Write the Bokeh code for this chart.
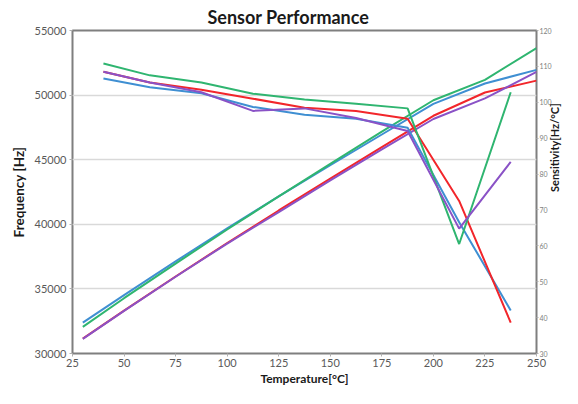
import math
from bokeh.plotting import figure
from bokeh.models import Range1d, LinearAxis, FixedTicker
from bokeh.embed import file_html
from bokeh.resources import INLINE

# ---- data ----
temp_freq = [30, 50, 75, 100, 125, 150, 175, 200, 225, 250]
freq_blue = [32390, 34520, 37130, 39690, 42160, 44570, 46950, 49320, 50900, 51950]
freq_red = [31150, 33320, 35960, 38550, 41070, 43530, 45970, 48400, 50200, 51120]
freq_green = [32060, 34280, 36960, 39600, 42160, 44680, 47170, 49600, 51180, 53640]
freq_purple = [31130, 33300, 35940, 38510, 40950, 43400, 45800, 48150, 49750, 51790]

temp_sens = [40, 62.5, 87.5, 112.5, 137.5, 162.5, 187.5, 212.5, 237.5]
sens_blue = [106.6, 104.2, 102.5, 98.7, 96.5, 95.4, 92.9, 66.6, 42.0]
sens_red = [108.5, 105.5, 103.5, 101.0, 98.5, 97.6, 95.4, 72.5, 38.6]
sens_green = [110.8, 107.5, 105.5, 102.4, 100.8, 99.6, 98.3, 60.5, 102.8]
sens_purple = [108.5, 105.5, 102.8, 97.6, 98.3, 95.6, 92.0, 64.8, 83.4]

x_ticks = list(range(25, 251, 25))
freq_ticks = list(range(30000, 55001, 5000))
sens_ticks = list(range(30, 121, 10))

colors = {"blue": "#3f8fd2", "red": "#f2262b", "green": "#2fb570", "purple": "#8a52c6"}
FONT = "Lato"

p = figure(width=570, height=388, x_range=Range1d(25, 250), y_range=Range1d(30000, 55000),
           output_backend="svg", toolbar_location=None,
           min_border_left=72, min_border_right=30, min_border_top=30, min_border_bottom=32)
p.background_fill_color = "white"
p.border_fill_color = "white"
p.outline_line_color = "#7f7f7f"
p.outline_line_width = 2

p.title.text = "Sensor Performance"
p.title.align = "left"
p.title.text_font = FONT
p.title.text_font_size = "18px"
p.title.text_font_style = "bold"
p.title.text_color = "#1a1a1a"
p.title.standoff = 6
p.title.offset = 135

p.extra_y_ranges = {"sens": Range1d(30, 120)}
right = LinearAxis(y_range_name="sens", axis_label="Sensitivity[Hz/°C]",
                   ticker=FixedTicker(ticks=sens_ticks))
p.add_layout(right, "right")

p.xaxis.ticker = FixedTicker(ticks=x_ticks)
p.yaxis[0].ticker = FixedTicker(ticks=freq_ticks)
p.xaxis.axis_label = "Temperature[°C]"
p.yaxis[0].axis_label = "Frequency [Hz]"

for ax in [p.xaxis[0], p.yaxis[0], right]:
    ax.axis_line_color = None
    ax.major_tick_line_color = "#b0b0b0"
    ax.major_tick_out = 3
    ax.major_tick_in = 0
    ax.minor_tick_line_color = None
    ax.major_label_text_font = FONT
    ax.major_label_text_color = "#595959"
    ax.major_label_text_font_size = "11px"
    ax.major_label_standoff = 3
    ax.axis_label_text_font = FONT
    ax.axis_label_text_font_style = "bold"
    ax.axis_label_text_font_size = "12px"
    ax.axis_label_text_color = "#1a1a1a"
    ax.axis_label_standoff = 3

p.yaxis[0].axis_label_text_font_size = "13.5px"
p.yaxis[0].axis_label_standoff = 5
p.xaxis[0].major_label_standoff = 2
p.xaxis[0].axis_label_standoff = 1

right.major_tick_out = 2
right.major_label_text_font_size = "7px"
right.major_label_text_color = "#808080"
right.major_label_standoff = 1
right.axis_label_standoff = 0
right.axis_label_text_font_size = "11px"
right.axis_label_orientation = math.pi / 2

p.xgrid.visible = False
p.ygrid.ticker = FixedTicker(ticks=freq_ticks)
p.ygrid.grid_line_color = "#d9d9d9"
p.ygrid.grid_line_width = 1.3

freq_series = [("blue", freq_blue), ("red", freq_red), ("green", freq_green), ("purple", freq_purple)]
sens_series = [("blue", sens_blue), ("red", sens_red), ("green", sens_green), ("purple", sens_purple)]

for name, ys in freq_series:
    p.line(temp_freq, ys, line_color=colors[name], line_width=2)
for name, ys in sens_series:
    p.line(temp_sens, ys, line_color=colors[name], line_width=2, y_range_name="sens")

open("out.html", "w").write(file_html(p, INLINE))
